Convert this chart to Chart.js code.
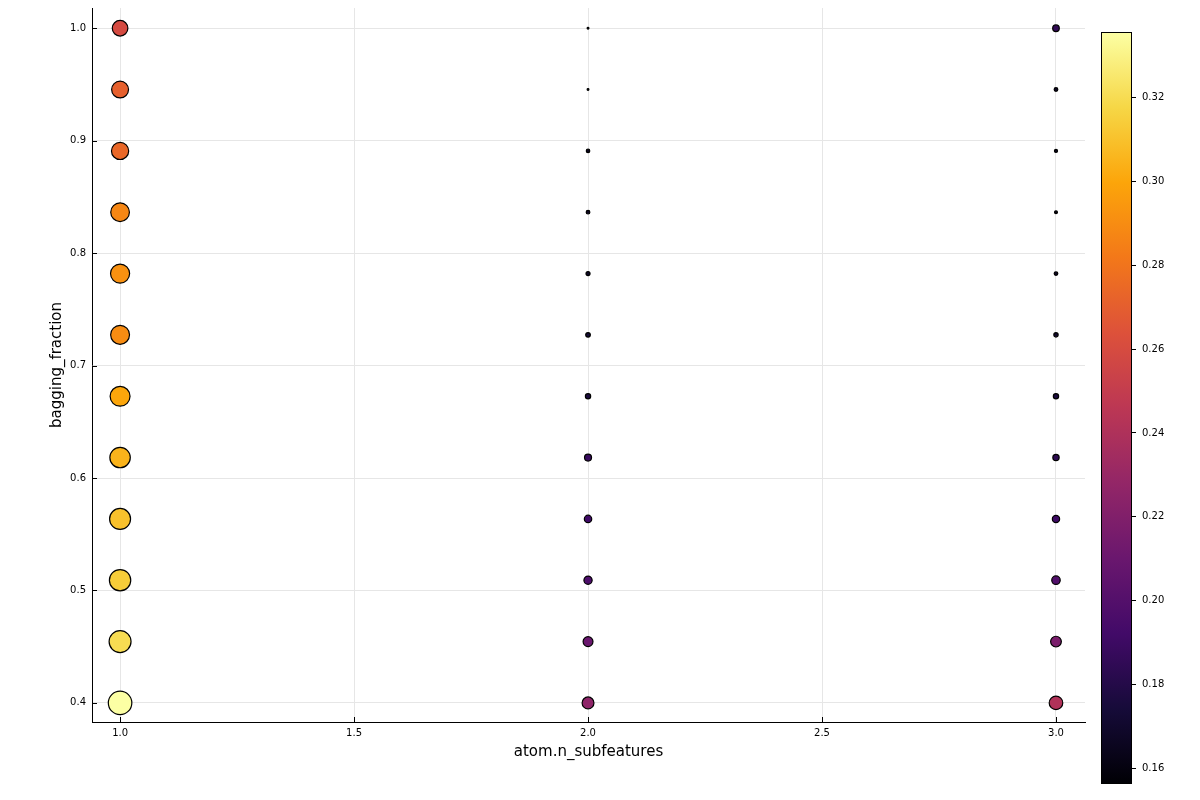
<!DOCTYPE html>
<html>
<head>
<meta charset="utf-8">
<script src="https://cdn.jsdelivr.net/npm/chart.js@4/dist/chart.umd.min.js"></script>
<style>
	body { margin: 0; background: #fff; }
	#wrap { position: relative; width: 1200px; height: 800px; }
	#main { position: absolute; left: 0; top: 0; }
	#cbar { position: absolute; left: 1090px; top: 0; }
</style>
</head>
<body>
<div id="wrap">
	<canvas id="main" width="1200" height="800"></canvas>
	<canvas id="cbar" width="110" height="800"></canvas>
</div>
<script>
// Data
const subfeatures = [1, 2, 3];
const fractions = [0.4, 0.4545, 0.5091, 0.5636, 0.6182, 0.6727, 0.7273, 0.7818, 0.8364, 0.8909, 0.9455, 1.0];
// loss per bagging_fraction (ascending), one list per atom.n_subfeatures
const loss1 = [0.3357, 0.320, 0.314, 0.310, 0.305, 0.300, 0.290, 0.292, 0.288, 0.274, 0.271, 0.259];
const loss2 = [0.226, 0.210, 0.197, 0.191, 0.188, 0.176, 0.172, 0.168, 0.166, 0.165, 0.157, 0.157];
const loss3 = [0.241, 0.217, 0.199, 0.190, 0.183, 0.176, 0.170, 0.166, 0.162, 0.163, 0.166, 0.185];

// Tick labels
const xTicks = [1.0, 1.5, 2.0, 2.5, 3.0];
const yTicks = [0.4, 0.5, 0.6, 0.7, 0.8, 0.9, 1.0];
const cbTicks = [0.16, 0.18, 0.20, 0.22, 0.24, 0.26, 0.28, 0.30, 0.32];

const zMin = 0.1562;
const zMax = 0.3357;

// inferno colormap stops
const inferno = ['#000004', '#160b39', '#420a68', '#6a176e', '#932667', '#bc3754', '#dd513a', '#f37819', '#fca50a', '#f6d746', '#fcffa4'];

Chart.defaults.font.family = 'DejaVu Sans';
Chart.defaults.color = '#000';

function hexToRgb(h) {
	return [parseInt(h.slice(1, 3), 16), parseInt(h.slice(3, 5), 16), parseInt(h.slice(5, 7), 16)];
}

// colour for a loss value
function infernoColor(v) {
	let t = Math.min(1, Math.max(0, (v - zMin) / (zMax - zMin)));
	let pos = t * (inferno.length - 1);
	let i = Math.min(inferno.length - 2, Math.floor(pos));
	let f = pos - i;
	let a = hexToRgb(inferno[i]), b = hexToRgb(inferno[i + 1]);
	let c = a.map((x, k) => Math.round(x + (b[k] - x) * f));
	return `rgb(${c[0]},${c[1]},${c[2]})`;
}

// marker radius grows with loss
function markerRadius(v) {
	let t = Math.min(1, Math.max(0, (v - zMin) / (zMax - zMin)));
	let d = 2.5 + 22 * Math.pow(t, 0.8);
	return (d - 1) / 2;
}

let points = [];
[loss1, loss2, loss3].forEach((losses, i) => {
	losses.forEach((z, j) => {
		points.push({ x: subfeatures[i], y: fractions[j], z: z });
	});
});

// small inward tick marks like the original
const innerTicks = {
	id: 'innerTicks',
	afterDraw(chart) {
		let ctx = chart.ctx;
		let { left, bottom } = chart.chartArea;
		let xs = chart.scales.x, ys = chart.scales.y;
		ctx.save();
		ctx.strokeStyle = '#000';
		ctx.lineWidth = 1;
		ctx.beginPath();
		for (let t of xs.ticks) {
			let px = Math.round(xs.getPixelForValue(t.value)) + 0.5;
			ctx.moveTo(px, bottom);
			ctx.lineTo(px, bottom - 5);
		}
		for (let t of ys.ticks) {
			let py = Math.round(ys.getPixelForValue(t.value)) + 0.5;
			ctx.moveTo(left, py);
			ctx.lineTo(left + 5, py);
		}
		ctx.stroke();
		ctx.restore();
	}
};

new Chart(document.getElementById('main'), {
	type: 'scatter',
	data: {
		datasets: [{
			data: points,
			backgroundColor: (c) => c.raw ? infernoColor(c.raw.z) : '#000',
			borderColor: '#000',
			borderWidth: 1.2,
			pointRadius: (c) => c.raw ? markerRadius(c.raw.z) : 3,
			clip: false,
		}]
	},
	options: {
		responsive: false,
		animation: false,
		layout: { autoPadding: false, padding: { top: 8, right: 115, left: 0, bottom: 0 } },
		plugins: { legend: { display: false }, tooltip: { enabled: false } },
		scales: {
			x: {
				type: 'linear',
				min: 0.94,
				max: 3.062,
				afterBuildTicks: (s) => { s.ticks = xTicks.map(v => ({ value: v })); },
				afterFit: (s) => { s.height = 78; s.paddingLeft = 0; s.paddingRight = 0; },
				grid: { color: '#e6e6e6', drawTicks: false },
				border: { color: '#000', width: 1 },
				ticks: { padding: 5, font: { size: 10 }, callback: (v) => v.toFixed(1) },
				title: { display: true, text: 'atom.n_subfeatures', font: { size: 15 }, padding: { top: 0, bottom: 39 } }
			},
			y: {
				type: 'linear',
				min: 0.383,
				max: 1.018,
				afterBuildTicks: (s) => { s.ticks = yTicks.map(v => ({ value: v })); },
				afterFit: (s) => { s.width = 92; s.paddingTop = 0; s.paddingBottom = 0; },
				grid: { color: '#e6e6e6', drawTicks: false },
				border: { color: '#000', width: 1 },
				ticks: { padding: 6, font: { size: 10 }, callback: (v) => v.toFixed(1) },
				title: { display: true, text: 'bagging_fraction', font: { size: 15 }, padding: { top: 48, bottom: 0 } }
			}
		}
	},
	plugins: [innerTicks]
});

// colour bar: gradient filled into the chart area of a second chart
const colorBar = {
	id: 'colorBar',
	beforeDatasetsDraw(chart) {
		let ctx = chart.ctx;
		let { left, right, top, bottom } = chart.chartArea;
		let g = ctx.createLinearGradient(0, bottom, 0, top);
		inferno.forEach((c, i) => g.addColorStop(i / (inferno.length - 1), c));
		ctx.save();
		ctx.fillStyle = g;
		ctx.fillRect(left, top, right - left, bottom - top);
		ctx.strokeStyle = '#000';
		ctx.lineWidth = 1;
		ctx.strokeRect(left + 0.5, top + 0.5, right - left - 1, bottom - top - 1);
		ctx.restore();
	}
};

new Chart(document.getElementById('cbar'), {
	type: 'scatter',
	data: { datasets: [] },
	options: {
		responsive: false,
		animation: false,
		layout: { padding: { top: 32, right: 0, left: 11, bottom: 16 } },
		plugins: { legend: { display: false }, tooltip: { enabled: false } },
		scales: {
			x: { display: false, min: 0, max: 1 },
			y: {
				position: 'right',
				min: zMin,
				max: zMax,
				afterBuildTicks: (s) => { s.ticks = cbTicks.map(v => ({ value: v })); },
				afterFit: (s) => { s.width = 68; },
				grid: { drawOnChartArea: false, tickLength: 4, color: '#000' },
				border: { display: false },
				ticks: { padding: 6, font: { size: 10 }, callback: (v) => v.toFixed(2) }
			}
		}
	},
	plugins: [colorBar]
});
</script>
</body>
</html>
